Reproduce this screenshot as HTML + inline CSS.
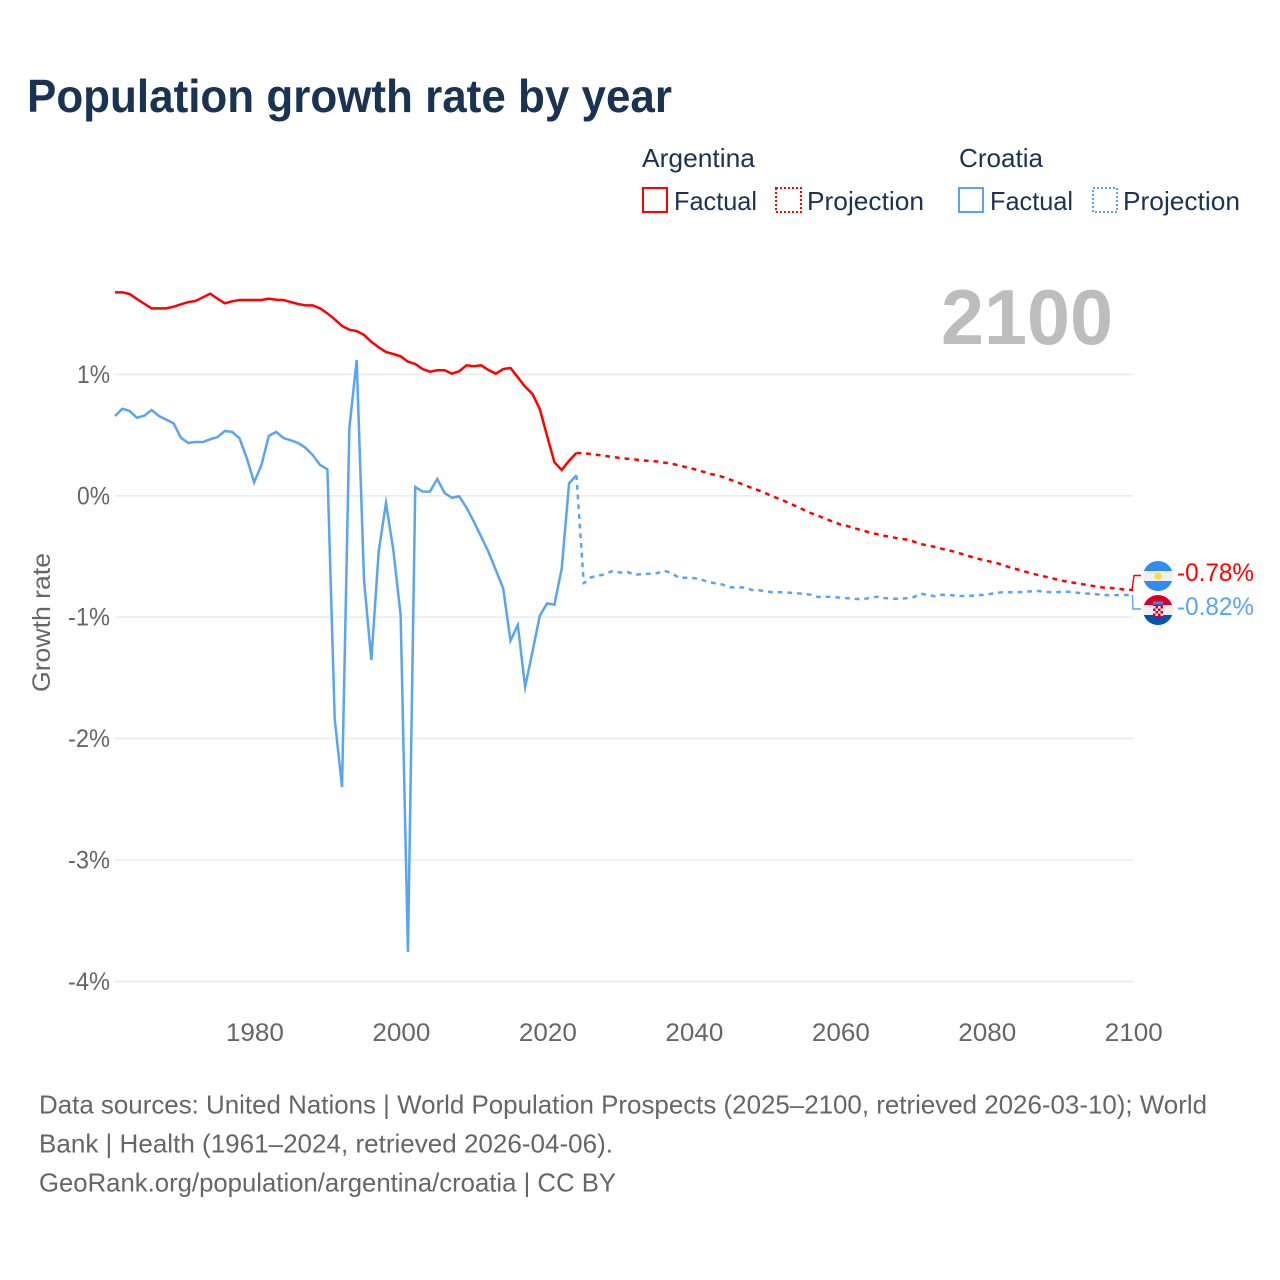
<!DOCTYPE html>
<html lang="en">
<head>
<meta charset="utf-8">
<title>Population growth rate by year</title>
<style>
html,body{margin:0;padding:0;background:#fff;}
svg{display:block;font-family:"Liberation Sans",sans-serif;}
</style>
</head>
<body>
<svg id="chart" xmlns="http://www.w3.org/2000/svg" width="1280" height="1280" viewBox="0 0 1280 1280">
  <rect width="1280" height="1280" fill="#fff"/>
  <text x="27" y="112" font-size="46" font-weight="700" fill="#1a3353" textLength="645" lengthAdjust="spacingAndGlyphs">Population growth rate by year</text>

  <g font-size="26" fill="#1a3353">
    <text x="642" y="167" textLength="113" lengthAdjust="spacingAndGlyphs">Argentina</text>
    <text x="959" y="167" textLength="84" lengthAdjust="spacingAndGlyphs">Croatia</text>
    <g>
      <rect x="643" y="188" width="24" height="24" fill="none" stroke="#ff0000" stroke-width="2"/>
      <text x="674" y="210" textLength="83" lengthAdjust="spacingAndGlyphs">Factual</text>
    </g>
    <g>
      <rect x="776" y="188" width="25" height="24" fill="none" stroke="#ff0000" stroke-width="2" stroke-dasharray="2 2"/>
      <text x="807" y="210" textLength="117" lengthAdjust="spacingAndGlyphs">Projection</text>
    </g>
    <g>
      <rect x="959" y="188" width="24" height="24" fill="none" stroke="#5ba4ee" stroke-width="2"/>
      <text x="990" y="210" textLength="83" lengthAdjust="spacingAndGlyphs">Factual</text>
    </g>
    <g>
      <rect x="1093" y="188" width="24" height="24" fill="none" stroke="#5ba4ee" stroke-width="2" stroke-dasharray="2 2"/>
      <text x="1123" y="210" textLength="117" lengthAdjust="spacingAndGlyphs">Projection</text>
    </g>
  </g>

  <text x="941" y="344" font-size="78" font-weight="700" fill="#bdbdbd" textLength="172" lengthAdjust="spacingAndGlyphs">2100</text>

  <g id="grid"></g>
  <g id="yticks" font-size="25" fill="#666"></g>
  <g id="xticks" font-size="25" fill="#666"></g>
  <text transform="translate(50,692) rotate(-90)" font-size="25" fill="#666" textLength="139" lengthAdjust="spacingAndGlyphs">Growth rate</text>
  <g id="series"></g>

  <path d="M1132 590 L1134 575.5 L1141 575.5" fill="none" stroke="#ff0000" stroke-width="1.4"/>
  <path d="M1132.5 595 L1133 609 L1141 609" fill="none" stroke="#5ba4ee" stroke-width="1.4"/>

  <defs>
    <clipPath id="clipA"><circle cx="1158" cy="576" r="15"/></clipPath>
    <clipPath id="clipC"><circle cx="1158" cy="610" r="15"/></clipPath>
  </defs>
  <g clip-path="url(#clipA)">
    <rect x="1143" y="561" width="30" height="30" fill="#f0f0f0"/>
    <rect x="1143" y="561" width="30" height="10" fill="#338af3"/>
    <rect x="1143" y="581" width="30" height="10" fill="#338af3"/>
    <circle cx="1158" cy="576" r="3.8" fill="#ffda44"/>
  </g>
  <g clip-path="url(#clipC)">
    <rect x="1143" y="595" width="30" height="30" fill="#f0f0f0"/>
    <rect x="1143" y="595" width="30" height="10" fill="#d80027"/>
    <rect x="1143" y="615" width="30" height="10" fill="#0052b4"/>
    <rect x="1153" y="604" width="10" height="13" fill="#d80027"/>
    <path d="M1153 606h2.5v2.5h-2.5zM1158 606h2.5v2.5h-2.5zM1155.5 608.5h2.5v2.5h-2.5zM1160.5 608.5h2.5v2.5h-2.5zM1153 611h2.5v2.5h-2.5zM1158 611h2.5v2.5h-2.5zM1155.5 613.5h2.5v2.5h-2.5zM1160.5 613.5h2.5v2.5h-2.5z" fill="#f0f0f0"/>
    <rect x="1153" y="601.5" width="10" height="3" fill="#338af3"/>
  </g>
  <text x="1177" y="581" font-size="25" fill="#ff0000" textLength="77" lengthAdjust="spacingAndGlyphs">-0.78%</text>
  <text x="1177" y="615" font-size="25" fill="#5ba4ee" textLength="77" lengthAdjust="spacingAndGlyphs">-0.82%</text>

  <g font-size="26" fill="#666">
    <text x="39" y="1113.5" textLength="1168" lengthAdjust="spacingAndGlyphs">Data sources: United Nations | World Population Prospects (2025–2100, retrieved 2026-03-10); World</text>
    <text x="39" y="1152.5" textLength="574" lengthAdjust="spacingAndGlyphs">Bank | Health (1961–2024, retrieved 2026-04-06).</text>
    <text x="39" y="1191.5" textLength="577" lengthAdjust="spacingAndGlyphs">GeoRank.org/population/argentina/croatia | CC BY</text>
  </g>
</svg>

<script>
const factualStartYear = 1961;
const projectionStartYear = 2025;
const xTickYears = [1980, 2000, 2020, 2040, 2060, 2080, 2100];
const yTickValues = [1, 0, -1, -2, -3, -4];
const yTickLabels = ['1%', '0%', '-1%', '-2%', '-3%', '-4%'];

const argentinaFactual = [
  1.676,1.676,1.662,1.621,1.582,1.544,1.544,1.544,1.558,1.577,
  1.596,1.605,1.635,1.665,1.624,1.586,1.602,1.613,1.613,1.613,
  1.613,1.624,1.615,1.613,1.596,1.580,1.569,1.569,1.544,1.503,
  1.454,1.399,1.368,1.357,1.325,1.269,1.223,1.185,1.168,1.149,
  1.105,1.086,1.044,1.022,1.034,1.034,1.006,1.026,1.075,1.067,
  1.075,1.036,1.006,1.044,1.053,0.976,0.899,0.839,0.715,0.493,
  0.276,0.213,0.289,0.353
];
const argentinaProjection = [
  0.350,0.344,0.336,0.328,0.320,0.311,0.305,0.299,0.292,0.287,
  0.283,0.273,0.264,0.251,0.235,0.221,0.204,0.185,0.171,0.155,
  0.133,0.111,0.086,0.064,0.042,0.017,-0.010,-0.032,-0.059,-0.086,
  -0.114,-0.142,-0.164,-0.189,-0.213,-0.235,-0.249,-0.268,-0.284,-0.301,
  -0.315,-0.329,-0.339,-0.352,-0.360,-0.376,-0.397,-0.409,-0.422,-0.438,
  -0.451,-0.467,-0.486,-0.504,-0.521,-0.535,-0.549,-0.564,-0.586,-0.603,
  -0.619,-0.638,-0.652,-0.666,-0.680,-0.696,-0.707,-0.717,-0.727,-0.737,
  -0.748,-0.756,-0.759,-0.766,-0.773,-0.776
];
const croatiaFactual = [
  0.657,0.717,0.699,0.643,0.660,0.707,0.657,0.627,0.597,0.479,
  0.435,0.443,0.443,0.465,0.484,0.534,0.526,0.474,0.309,0.111,
  0.254,0.493,0.526,0.476,0.457,0.435,0.396,0.336,0.254,0.218,
  -1.839,-2.399,0.558,1.119,-0.694,-1.353,-0.463,-0.059,-0.446,-0.982,
  -3.758,0.072,0.035,0.034,0.138,0.023,-0.016,-0.004,-0.098,-0.213,
  -0.337,-0.463,-0.611,-0.762,-1.194,-1.064,-1.575,-1.284,-0.988,-0.886,
  -0.897,-0.597,0.103,0.169
];
const croatiaProjection = [
  -0.721,-0.671,-0.658,-0.644,-0.617,-0.633,-0.628,-0.652,-0.644,-0.642,
  -0.638,-0.617,-0.638,-0.675,-0.675,-0.677,-0.688,-0.710,-0.721,-0.732,
  -0.754,-0.754,-0.757,-0.776,-0.778,-0.790,-0.795,-0.795,-0.798,-0.803,
  -0.806,-0.815,-0.834,-0.831,-0.834,-0.839,-0.844,-0.848,-0.853,-0.842,
  -0.831,-0.842,-0.848,-0.848,-0.844,-0.836,-0.806,-0.817,-0.828,-0.815,
  -0.817,-0.825,-0.825,-0.823,-0.817,-0.815,-0.803,-0.795,-0.795,-0.795,
  -0.792,-0.787,-0.784,-0.790,-0.795,-0.792,-0.790,-0.795,-0.803,-0.806,
  -0.811,-0.817,-0.820,-0.817,-0.817,-0.817
];

const SVG_NS = 'http://www.w3.org/2000/svg';
function xScale(year) { return 115 + (year - 1961) * (1133 - 115) / (2100 - 1961); }
function yScale(v) { return 495.8 - v * 121.4; }
function make(tag, attrs) {
  const el = document.createElementNS(SVG_NS, tag);
  for (const k in attrs) el.setAttribute(k, attrs[k]);
  return el;
}
function linePath(points) {
  return points.map(function (p, i) {
    return (i ? 'L' : 'M') + xScale(p[0]).toFixed(2) + ' ' + yScale(p[1]).toFixed(2);
  }).join(' ');
}

const grid = document.getElementById('grid');
const yticks = document.getElementById('yticks');
yTickValues.forEach(function (v, i) {
  const line = make('line', {x1: xScale(1961), x2: xScale(2100), y1: yScale(v), y2: yScale(v), stroke: '#ececec', 'stroke-width': 1.6});
  
  
  grid.appendChild(line);
  const label = yTickLabels[i];
  const t = make('text', {x: 110, y: yScale(v) + 8.5, 'text-anchor': 'end', textLength: label.length === 2 ? 33 : 42, lengthAdjust: 'spacingAndGlyphs'});
  
  
  t.textContent = label;
  yticks.appendChild(t);
});

const xticks = document.getElementById('xticks');
xTickYears.forEach(function (year) {
  const t = make('text', {x: xScale(year) + 0.8, y: 1041, 'text-anchor': 'middle', textLength: 58, lengthAdjust: 'spacingAndGlyphs'});
  
  
  t.textContent = String(year);
  xticks.appendChild(t);
});

function drawSeries(factual, projection, color, baseName) {
  const series = document.getElementById('series');
  const fPts = factual.map(function (v, i) { return [factualStartYear + i, v]; });
  const pPts = [fPts[fPts.length - 1]].concat(projection.map(function (v, i) { return [projectionStartYear + i, v]; }));
  const dashed = make('path', {d: linePath(pPts), fill: 'none', stroke: color, 'stroke-width': 2.5, 'stroke-dasharray': '4.8 4.9', 'stroke-linejoin': 'round'});
  
  
  series.appendChild(dashed);
  const solid = make('path', {d: linePath(fPts), fill: 'none', stroke: color, 'stroke-width': 2.5, 'stroke-linejoin': 'miter', 'stroke-miterlimit': 10});
  
  
  series.appendChild(solid);
}
drawSeries(croatiaFactual, croatiaProjection, '#5ba4ee', 'croatia');
drawSeries(argentinaFactual, argentinaProjection, '#ff0000', 'argentina');
</script>
</body>
</html>
